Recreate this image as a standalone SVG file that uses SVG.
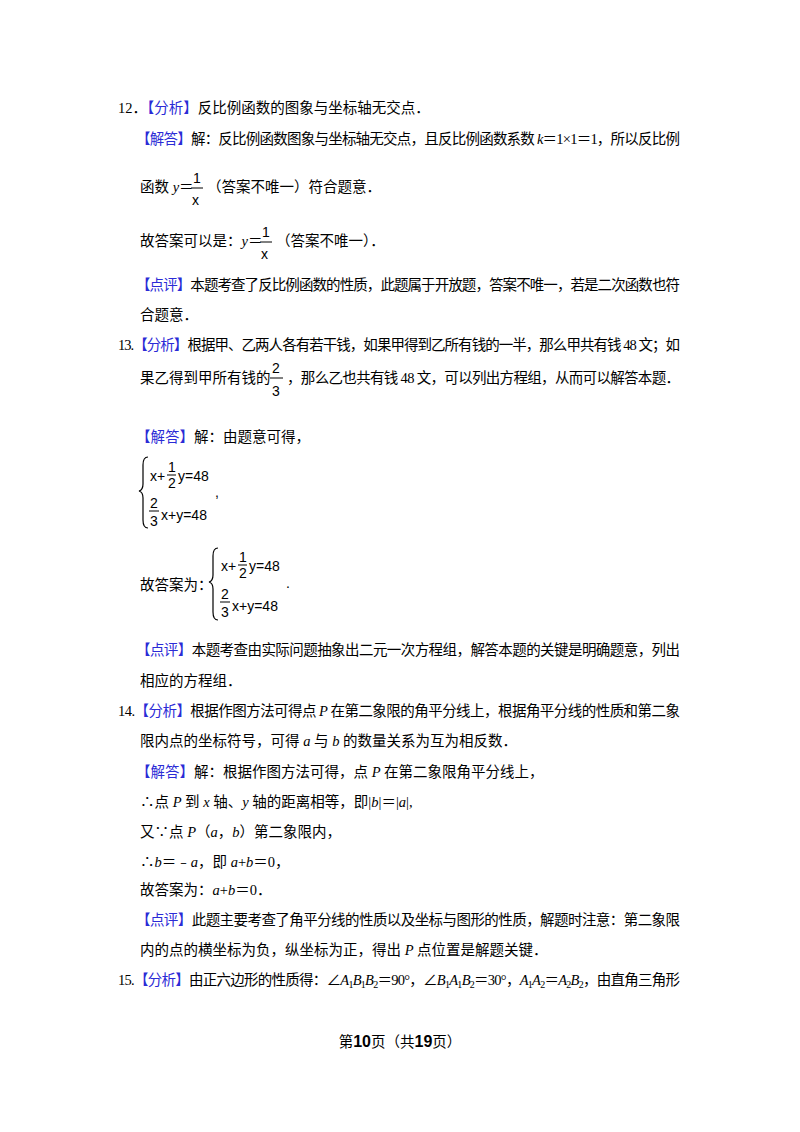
<svg xmlns="http://www.w3.org/2000/svg" width="800" height="1132" viewBox="0 0 800 1132">
<style>
text{font-family:"Liberation Serif","Noto Sans CJK SC",serif;font-size:14.5px;fill:#000}
.b{fill:#2b2bd6}
.i{font-style:italic}
.m{font-family:"Liberation Sans","DejaVu Sans",sans-serif;font-size:14px}
.br{fill:none;stroke:#000;stroke-width:1.2}
</style>
<rect width="800" height="1132" fill="#fff"/>
<g id="q12">
<text x="118" y="113">12．<tspan class="b">【分析】</tspan>反比例函数的图象与坐标轴无交点．</text>
<text x="136" y="144" textLength="544" lengthAdjust="spacing"><tspan class="b">【解答】</tspan>解：反比例函数图象与坐标轴无交点，且反比例函数系数 <tspan class="i">k</tspan>＝1×1＝1，所以反比例</text>
<text x="140" y="192">函数 <tspan class="i">y</tspan>＝</text>
<text x="193" y="183" class="m">1</text><line x1="191" y1="188" x2="203" y2="188" stroke="#000"/><text x="192" y="205" class="m">x</text>
<text x="207" y="192">（答案不唯一）符合题意．</text>
<text x="140" y="246">故答案可以是：<tspan class="i">y</tspan>＝</text>
<text x="262" y="237" class="m">1</text><line x1="260" y1="242" x2="272" y2="242" stroke="#000"/><text x="261" y="259" class="m">x</text>
<text x="276" y="246">（答案不唯一）．</text>
<text x="136" y="290" textLength="544" lengthAdjust="spacing"><tspan class="b">【点评】</tspan>本题考查了反比例函数的性质，此题属于开放题，答案不唯一，若是二次函数也符</text>
<text x="140" y="320">合题意．</text>
</g>
<g id="q13">
<text x="118" y="350" textLength="562" lengthAdjust="spacing">13.<tspan class="b">【分析】</tspan>根据甲、乙两人各有若干钱，如果甲得到乙所有钱的一半，那么甲共有钱 48 文；如</text>
<text x="140" y="383">果乙得到甲所有钱的</text>
<text x="272" y="373" class="m" font-size="17">2</text><line x1="270" y1="378" x2="283" y2="378" stroke="#000"/><text x="272" y="396" class="m" font-size="17">3</text>
<text x="287" y="383" textLength="393" lengthAdjust="spacing">，那么乙也共有钱 48 文，可以列出方程组，从而可以解答本题．</text>
<text x="136" y="442"><tspan class="b">【解答】</tspan>解：由题意可得，</text>
<path class="br" d="M148 457 Q143 457 143 465 L143 484 Q143 490 139 491 Q143 492 143 498 L143 520 Q143 528 148 528"/>
<text x="150" y="481" class="m">x+</text><text x="168" y="472" class="m" font-size="12">1</text><line x1="167" y1="475" x2="176" y2="475" stroke="#000"/><text x="168" y="488" class="m" font-size="12">2</text><text x="178" y="481" class="m">y=48</text>
<text x="215" y="497" class="m">,</text>
<text x="150" y="508" class="m" font-size="13">2</text><line x1="149" y1="511" x2="159" y2="511" stroke="#000"/><text x="150" y="526" class="m" font-size="13">3</text><text x="161" y="520" class="m">x+y=48</text>
<text x="140" y="590">故答案为：</text>
<path class="br" d="M218 548 Q213 548 213 556 L213 575 Q213 581 209 582 Q213 583 213 589 L213 612 Q213 620 218 620"/>
<text x="221" y="571" class="m">x+</text><text x="239" y="562" class="m" font-size="12">1</text><line x1="238" y1="565" x2="247" y2="565" stroke="#000"/><text x="239" y="578" class="m" font-size="12">2</text><text x="249" y="571" class="m">y=48</text>
<text x="286" y="588" class="m">.</text>
<text x="221" y="599" class="m" font-size="13">2</text><line x1="220" y1="602" x2="230" y2="602" stroke="#000"/><text x="221" y="617" class="m" font-size="13">3</text><text x="232" y="611" class="m">x+y=48</text>
<text x="136" y="655" textLength="544" lengthAdjust="spacing"><tspan class="b">【点评】</tspan>本题考查由实际问题抽象出二元一次方程组，解答本题的关键是明确题意，列出</text>
<text x="140" y="686">相应的方程组．</text>
</g>
<g id="q14">
<text x="118" y="716" textLength="562" lengthAdjust="spacing">14.<tspan class="b">【分析】</tspan>根据作图方法可得点 <tspan class="i">P</tspan> 在第二象限的角平分线上，根据角平分线的性质和第二象</text>
<text x="140" y="746">限内点的坐标符号，可得 <tspan class="i">a</tspan> 与 <tspan class="i">b</tspan> 的数量关系为互为相反数．</text>
<text x="136" y="777"><tspan class="b">【解答】</tspan>解：根据作图方法可得，点 <tspan class="i">P</tspan> 在第二象限角平分线上，</text>
<text x="140" y="807">∴点 <tspan class="i">P</tspan> 到 <tspan class="i">x</tspan> 轴、<tspan class="i">y</tspan> 轴的距离相等，即|<tspan class="i">b</tspan>|＝|<tspan class="i">a</tspan>|,</text>
<text x="140" y="837">又∵点 <tspan class="i">P</tspan>（<tspan class="i">a</tspan>，<tspan class="i">b</tspan>）第二象限内，</text>
<text x="140" y="867">∴<tspan class="i">b</tspan>＝﹣<tspan class="i">a</tspan>，即 <tspan class="i">a</tspan>+<tspan class="i">b</tspan>＝0，</text>
<text x="140" y="895">故答案为：<tspan class="i">a</tspan>+<tspan class="i">b</tspan>＝0．</text>
<text x="136" y="925" textLength="544" lengthAdjust="spacing"><tspan class="b">【点评】</tspan>此题主要考查了角平分线的性质以及坐标与图形的性质，解题时注意：第二象限</text>
<text x="140" y="955">内的点的横坐标为负，纵坐标为正，得出 <tspan class="i">P</tspan> 点位置是解题关键．</text>
</g>
<g id="q15">
<text x="118" y="985" textLength="562" lengthAdjust="spacing">15.<tspan class="b">【分析】</tspan>由正六边形的性质得：∠<tspan class="i">A</tspan><tspan font-size="10" dy="3">1</tspan><tspan class="i" dy="-3">B</tspan><tspan font-size="10" dy="3">1</tspan><tspan class="i" dy="-3">B</tspan><tspan font-size="10" dy="3">2</tspan><tspan dy="-3">＝90°，∠</tspan><tspan class="i">B</tspan><tspan font-size="10" dy="3">1</tspan><tspan class="i" dy="-3">A</tspan><tspan font-size="10" dy="3">1</tspan><tspan class="i" dy="-3">B</tspan><tspan font-size="10" dy="3">2</tspan><tspan dy="-3">＝30°，</tspan><tspan class="i">A</tspan><tspan font-size="10" dy="3">1</tspan><tspan class="i" dy="-3">A</tspan><tspan font-size="10" dy="3">2</tspan><tspan dy="-3">＝</tspan><tspan class="i">A</tspan><tspan font-size="10" dy="3">2</tspan><tspan class="i" dy="-3">B</tspan><tspan font-size="10" dy="3">2</tspan><tspan dy="-3">，由直角三角形</tspan></text>
</g>
<text x="400" y="1047" text-anchor="middle" font-size="13">第<tspan font-weight="bold" font-size="16" font-family="Liberation Sans">10</tspan>页（共<tspan font-weight="bold" font-size="16" font-family="Liberation Sans">19</tspan>页）</text>
</svg>
